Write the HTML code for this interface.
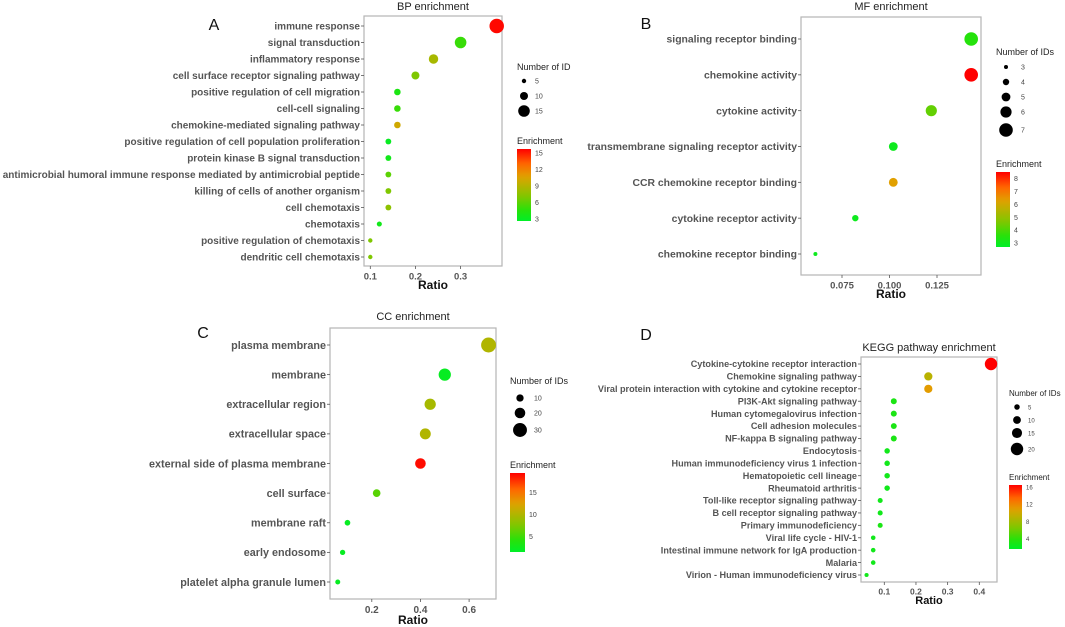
<!DOCTYPE html>
<html><head><meta charset="utf-8"><style>
html,body{margin:0;padding:0;background:#fff;}
svg{display:block;font-family:"Liberation Sans",sans-serif;}
</style></head><body>
<svg id="chart" width="1065" height="627" viewBox="0 0 1065 627" xmlns="http://www.w3.org/2000/svg">
<defs></defs>
</svg>
<script>
// ---- BP ----
const bpTerms=["immune response","signal transduction","inflammatory response","cell surface receptor signaling pathway","positive regulation of cell migration","cell-cell signaling","chemokine-mediated signaling pathway","positive regulation of cell population proliferation","protein kinase B signal transduction","antimicrobial humoral immune response mediated by antimicrobial peptide","killing of cells of another organism","cell chemotaxis","chemotaxis","positive regulation of chemotaxis","dendritic cell chemotaxis"];
const bpRatio=[0.38,0.30,0.24,0.20,0.16,0.16,0.16,0.14,0.14,0.14,0.14,0.14,0.12,0.10,0.10];
const bpCount=[19,15,12,10,8,8,8,7,7,7,7,7,6,5,5];
const bpEnrich=[15.5,5,8.5,7,4,5,10,3,3.5,6,7,7.5,3.5,7,7];
const bpXTicks=[0.1,0.2,0.3];
const bpSizeTicks=[5,10,15];
const bpColorTicks=[15,12,9,6,3];
// ---- MF ----
const mfTerms=["signaling receptor binding","chemokine activity","cytokine activity","transmembrane signaling receptor activity","CCR chemokine receptor binding","cytokine receptor activity","chemokine receptor binding"];
const mfRatio=[0.143,0.143,0.122,0.102,0.102,0.082,0.061];
const mfCount=[7,7,6,5,5,4,3];
const mfEnrich=[3.5,8.5,4.3,3,6.3,3,3];
const mfXTicks=[0.075,0.100,0.125];
const mfXTickLabels=["0.075","0.100","0.125"];
const mfSizeTicks=[3,4,5,6,7];
const mfColorTicks=[8,7,6,5,4,3];
// ---- CC ----
const ccTerms=["plasma membrane","membrane","extracellular region","extracellular space","external side of plasma membrane","cell surface","membrane raft","early endosome","platelet alpha granule lumen"];
const ccRatio=[0.68,0.50,0.44,0.42,0.40,0.22,0.10,0.08,0.06];
const ccCount=[33,25,22,21,20,11,5,4,3];
const ccEnrich=[10,2,9.5,10,19,6,2,2,2];
const ccXTicks=[0.2,0.4,0.6];
const ccSizeTicks=[10,20,30];
const ccColorTicks=[15,10,5];
// ---- KEGG ----
const kgTerms=["Cytokine-cytokine receptor interaction","Chemokine signaling pathway","Viral protein interaction with cytokine and cytokine receptor","PI3K-Akt signaling pathway","Human cytomegalovirus infection","Cell adhesion molecules","NF-kappa B signaling pathway","Endocytosis","Human immunodeficiency virus 1 infection","Hematopoietic cell lineage","Rheumatoid arthritis","Toll-like receptor signaling pathway","B cell receptor signaling pathway","Primary immunodeficiency","Viral life cycle - HIV-1","Intestinal immune network for IgA production","Malaria","Virion - Human immunodeficiency virus"];
const kgRatio=[0.437,0.239,0.239,0.13,0.13,0.13,0.13,0.109,0.109,0.109,0.109,0.087,0.087,0.087,0.065,0.065,0.065,0.044];
const kgCount=[20,11,11,6,6,6,6,5,5,5,5,4,4,4,3,3,3,2];
const kgEnrich=[16.5,9,11,3,3,3,3,2.5,2.5,2.5,2.5,2.5,2.5,3,2.5,2.5,2.5,2.5];
const kgXTicks=[0.1,0.2,0.3,0.4];
const kgSizeTicks=[5,10,15,20];
const kgColorTicks=[16,12,8,4];

const NS="http://www.w3.org/2000/svg";
const svg=document.getElementById('chart');
function mk(tag,attrs,parent){const e=document.createElementNS(NS,tag);for(const k in attrs)e.setAttribute(k,attrs[k]);(parent||svg).appendChild(e);return e;}
function txt(s,attrs,parent){const e=mk('text',attrs,parent);e.textContent=s;return e;}
const stops=[[0,[0,238,40]],[0.15,[40,225,10]],[0.33,[125,200,0]],[0.5,[185,178,0]],[0.62,[225,160,0]],[0.8,[255,100,0]],[1,[255,0,0]]];
function colorAt(t){t=Math.max(0,Math.min(1,t));for(let i=1;i<stops.length;i++){if(t<=stops[i][0]){const a=stops[i-1],b=stops[i];const f=(t-a[0])/(b[0]-a[0]);const c=a[1].map((v,j)=>Math.round(v+(b[1][j]-v)*f));return `rgb(${c[0]},${c[1]},${c[2]})`;}}return 'rgb(255,0,0)';}
let gid=0;
function panel(P){
  const g=mk('g',{});
  
  
  const xs=v=>P.px1+(v-P.v1)*(P.px2-P.px1)/(P.v2-P.v1);
  const n=P.terms.length;
  const ys=i=>P.rowTop+i*(P.rowBot-P.rowTop)/(n-1);
  const rs=c=>P.ra+P.rb*c;
  const cs=e=>colorAt((e-P.emin)/(P.emax-P.emin));
  const L=txt(P.letter,{x:P.lx,y:P.ly,'font-size':16,fill:'#111','text-anchor':'middle'},g);
  
  const T=txt(P.title,{x:(P.bx0+P.bx1)/2,y:P.ty,'font-size':11,fill:'#222','text-anchor':'middle'},g);
  
  const box=mk('rect',{x:P.bx0,y:P.by0,width:P.bx1-P.bx0,height:P.by1-P.by0,fill:'#fff',stroke:'#b5b5b5','stroke-width':1.2},g);
  
  P.terms.forEach((t,i)=>{
    const y=ys(i);
    mk('line',{x1:P.bx0-3,x2:P.bx0,y1:y,y2:y,stroke:'#555','stroke-width':0.8},g);
    const e=txt(t,{x:P.bx0-4,y:y+P.fs*0.35,'font-size':P.fs,'font-weight':'bold',fill:'#555','text-anchor':'end'},g);
    
  });
  P.xticks.forEach((v,i)=>{
    const x=xs(v);
    mk('line',{x1:x,x2:x,y1:P.by1,y2:P.by1+3,stroke:'#555','stroke-width':0.8},g);
    const e=txt(P.xlabels?P.xlabels[i]:String(v),{x:x,y:P.by1+P.xfs+4,'font-size':P.xfs,'font-weight':'bold',fill:'#555','text-anchor':'middle'},g);
    
  });
  const xt=txt('Ratio',{x:(P.bx0+P.bx1)/2,y:P.ry,'font-size':P.rfs,'font-weight':'bold',fill:'#111','text-anchor':'middle'},g);
  
  P.terms.forEach((t,i)=>{
    const c=mk('circle',{cx:xs(P.ratio[i]),cy:ys(i),r:rs(P.count[i]),fill:cs(P.enrich[i])},g);
    
    
  });
  const st=txt(P.sizeTitle,{x:P.lgx,y:P.sty,'font-size':P.lfs,fill:'#222'},g);
  
  P.sizeTicks.forEach((s,i)=>{
    const c=mk('circle',{cx:P.sdx,cy:P.sdy[i],r:rs(s),fill:'#000'},g);
    
    const e=txt(String(s),{x:P.slx,y:P.sdy[i]+2.5,'font-size':P.tfs,fill:'#444'},g);
    
  });
  const ct=txt('Enrichment',{x:P.lgx,y:P.cty,'font-size':P.lfs,fill:'#222'},g);
  
  const id='grad'+(gid++);
  const lg=mk('linearGradient',{id:id,x1:0,y1:1,x2:0,y2:0},svg.querySelector('defs'));
  for(let k=0;k<=20;k++){const t=k/20;mk('stop',{offset:t,'stop-color':colorAt(t)},lg);}
  const bar=mk('rect',{x:P.lgx,y:P.cby0,width:P.cbw,height:P.cby1-P.cby0,fill:`url(#${id})`},g);
  
  const cy=e=>P.cby1-(e-P.emin)*(P.cby1-P.cby0)/(P.emax-P.emin);
  P.colorTicks.forEach(v=>{
    const y=cy(v);
    const e=txt(String(v),{x:P.lgx+P.cbw+4,y:y+2.5,'font-size':P.tfs,fill:'#444'},g);
    
  });
}
panel({name:'bp-panel',letter:'A',lx:214,ly:30,title:'BP enrichment',ty:10,terms:bpTerms,ratio:bpRatio,count:bpCount,enrich:bpEnrich,
 bx0:364,bx1:502,by0:16,by1:266,v1:0.1,px1:370.3,v2:0.3,px2:460.6,rowTop:26,rowBot:257,fs:10,xfs:9.5,rfs:12,ry:289,
 ra:0.4,rb:0.36,emin:2.6,emax:15.7,xticks:bpXTicks,sizeTitle:'Number of ID',sizeTicks:bpSizeTicks,colorTicks:bpColorTicks,
 lgx:517,sty:70,lfs:9,tfs:7,sdx:524,sdy:[81,96,111],slx:535,cty:144,cby0:149,cby1:221,cbw:14});
panel({name:'mf-panel',letter:'B',lx:646,ly:29,title:'MF enrichment',ty:10,terms:mfTerms,ratio:mfRatio,count:mfCount,enrich:mfEnrich,
 bx0:801,bx1:981,by0:17,by1:275,v1:0.075,px1:842,v2:0.125,px2:937,rowTop:39,rowBot:254,fs:10.4,xfs:9.5,rfs:12,ry:298,
 ra:-1.6,rb:1.2,emin:2.7,emax:8.5,xticks:mfXTicks,xlabels:mfXTickLabels,sizeTitle:'Number of IDs',sizeTicks:mfSizeTicks,colorTicks:mfColorTicks,
 lgx:996,sty:55,lfs:9,tfs:7,sdx:1006,sdy:[67,82,97,112,130],slx:1021,cty:167,cby0:172,cby1:247,cbw:14});
panel({name:'cc-panel',letter:'C',lx:203,ly:338,title:'CC enrichment',ty:320,terms:ccTerms,ratio:ccRatio,count:ccCount,enrich:ccEnrich,
 bx0:330,bx1:496,by0:328,by1:599,v1:0.2,px1:371.8,v2:0.6,px2:469.1,rowTop:345,rowBot:582,fs:10.8,xfs:10,rfs:12,ry:624,
 ra:2.0,rb:0.165,emin:1.5,emax:19.4,xticks:ccXTicks,sizeTitle:'Number of IDs',sizeTicks:ccSizeTicks,colorTicks:ccColorTicks,
 lgx:510,sty:384,lfs:9,tfs:7,sdx:520,sdy:[398,413,430],slx:534,cty:468,cby0:473,cby1:552,cbw:15});
panel({name:'kegg-panel',letter:'D',lx:646,ly:340,title:'KEGG pathway enrichment',ty:351,terms:kgTerms,ratio:kgRatio,count:kgCount,enrich:kgEnrich,
 bx0:861,bx1:997,by0:357,by1:582,v1:0.1,px1:884.3,v2:0.4,px2:979.3,rowTop:364,rowBot:575,fs:9.1,xfs:8.5,rfs:11,ry:604,
 ra:1.6,rb:0.23,emin:1.5,emax:16.5,xticks:kgXTicks,sizeTitle:'Number of IDs',sizeTicks:kgSizeTicks,colorTicks:kgColorTicks,
 lgx:1009,sty:396,lfs:8,tfs:6,sdx:1017,sdy:[407,420,433,449],slx:1028,cty:480,cby0:485,cby1:549,cbw:13});
</script>
</body></html>
